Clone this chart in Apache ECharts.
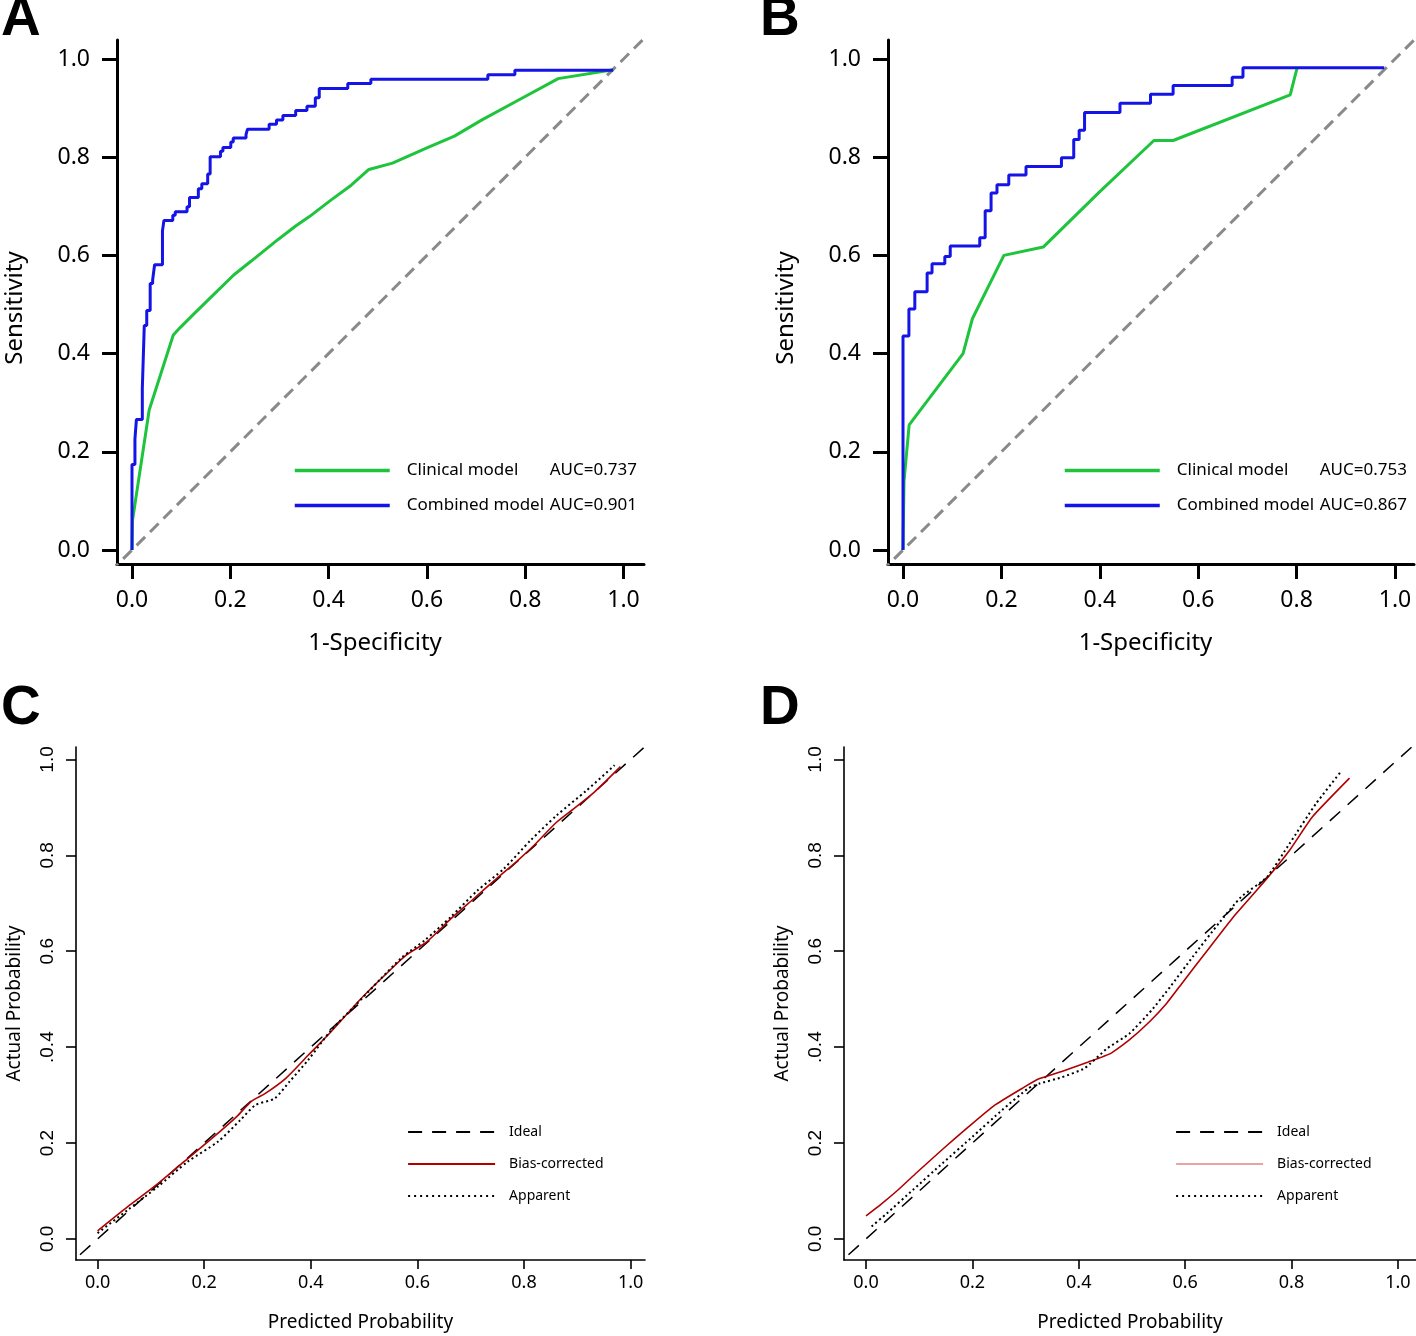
<!DOCTYPE html>
<html><head><meta charset="utf-8">
<script src="https://cdn.jsdelivr.net/npm/echarts@6/dist/echarts.min.js"></script>
<style>html,body{margin:0;padding:0;background:#fff}#c{width:1416px;height:1336px}</style>
</head><body><div id="c"></div>
<script>
// ---------- data ----------
const tickValues = [0, 0.2, 0.4, 0.6, 0.8, 1.0];
const calYTickLabels = ['0.0', '0.2', '.0.4', '0.6', '0.8', '1.0'];
const diagX = [-0.1, 1.1];

// Panel A (ROC)
const fprA_clin = [0, 0.001, 0.035, 0.084, 0.098, 0.126, 0.165, 0.207, 0.242, 0.298, 0.333, 0.361, 0.404, 0.446, 0.482, 0.530, 0.600, 0.656, 0.712, 0.782, 0.867, 0.979];
const tprA_clin = [0, 0.06, 0.285, 0.438, 0.453, 0.481, 0.519, 0.560, 0.588, 0.633, 0.660, 0.679, 0.712, 0.743, 0.775, 0.788, 0.819, 0.843, 0.876, 0.914, 0.960, 0.978];
const fprA_comb = [0, 0, 0.006, 0.009, 0.021, 0.025, 0.030, 0.037, 0.042, 0.046, 0.062, 0.065, 0.083, 0.088, 0.112, 0.117, 0.135, 0.142, 0.154, 0.159, 0.180, 0.185, 0.201, 0.206, 0.232, 0.235, 0.279, 0.294, 0.307, 0.333, 0.356, 0.373, 0.381, 0.439, 0.486, 0.724, 0.779, 0.979];
const tprA_comb = [0, 0.174, 0.226, 0.266, 0.329, 0.457, 0.488, 0.543, 0.550, 0.581, 0.650, 0.671, 0.682, 0.689, 0.699, 0.718, 0.736, 0.746, 0.766, 0.801, 0.812, 0.820, 0.831, 0.839, 0.846, 0.857, 0.867, 0.876, 0.885, 0.895, 0.904, 0.921, 0.940, 0.950, 0.959, 0.968, 0.977, 0.977];
const aucA = ['AUC=0.737', 'AUC=0.901'];

// Panel B (ROC)
const fprB_clin = [0, 0.002, 0.0125, 0.122, 0.141, 0.205, 0.285, 0.399, 0.510, 0.549, 0.787, 0.801];
const tprB_clin = [0, 0.14, 0.255, 0.400, 0.471, 0.600, 0.617, 0.729, 0.834, 0.834, 0.927, 0.982];
const fprB_comb = [0, 0, 0.012, 0.024, 0.049, 0.059, 0.085, 0.096, 0.156, 0.167, 0.179, 0.191, 0.215, 0.250, 0.322, 0.347, 0.358, 0.369, 0.441, 0.503, 0.549, 0.669, 0.691, 0.978];
const tprB_comb = [0, 0.436, 0.491, 0.526, 0.564, 0.583, 0.598, 0.619, 0.636, 0.691, 0.727, 0.744, 0.764, 0.781, 0.799, 0.836, 0.855, 0.891, 0.910, 0.928, 0.946, 0.963, 0.982, 0.982];
const aucB = ['AUC=0.753', 'AUC=0.867'];

// Panel C (calibration)
const predC_bias = [0.0, 0.056, 0.106, 0.162, 0.215, 0.261, 0.289, 0.314, 0.353, 0.395, 0.438, 0.494, 0.536, 0.579, 0.617, 0.663, 0.706, 0.748, 0.787, 0.819, 0.861, 0.893, 0.932, 0.981];
const actC_bias  = [0.017, 0.067, 0.109, 0.161, 0.210, 0.255, 0.2875, 0.303, 0.335, 0.383, 0.432, 0.501, 0.547, 0.592, 0.619, 0.668, 0.710, 0.751, 0.788, 0.821, 0.869, 0.897, 0.932, 0.985];
const predC_app = [0.0, 0.056, 0.113, 0.169, 0.226, 0.268, 0.296, 0.332, 0.360, 0.395, 0.438, 0.487, 0.529, 0.572, 0.614, 0.663, 0.713, 0.762, 0.812, 0.861, 0.917, 0.970];
const actC_app  = [0.012, 0.060, 0.109, 0.161, 0.203, 0.248, 0.279, 0.293, 0.328, 0.373, 0.435, 0.491, 0.540, 0.588, 0.623, 0.672, 0.727, 0.772, 0.831, 0.883, 0.935, 0.988];

// Panel D (calibration)
const predD_bias = [0.0, 0.028, 0.060, 0.095, 0.144, 0.193, 0.242, 0.298, 0.323, 0.368, 0.418, 0.460, 0.495, 0.533, 0.565, 0.596, 0.642, 0.691, 0.751, 0.796, 0.839, 0.909];
const actD_bias  = [0.048, 0.072, 0.102, 0.138, 0.187, 0.234, 0.279, 0.317, 0.333, 0.349, 0.369, 0.387, 0.415, 0.453, 0.491, 0.536, 0.602, 0.672, 0.748, 0.810, 0.880, 0.961];
const predD_app = [0.0105, 0.039, 0.088, 0.144, 0.200, 0.256, 0.305, 0.326, 0.368, 0.411, 0.453, 0.495, 0.537, 0.572, 0.614, 0.663, 0.705, 0.754, 0.796, 0.846, 0.891];
const actD_app  = [0.026, 0.053, 0.102, 0.158, 0.213, 0.269, 0.314, 0.324, 0.337, 0.356, 0.397, 0.428, 0.477, 0.526, 0.588, 0.658, 0.713, 0.755, 0.824, 0.908, 0.972];

// ---------- helpers ----------
const zip = (xs, ys) => xs.map((x, i) => [x, ys[i]]);
const GREEN = '#1ec43c', BLUE = '#1414e6', GREY = '#8a8a8a', RED = '#b00000', PINK = '#e8a4a4';
const FONT = 'Noto Sans';

function rocXAxis(gi, min, max) {
  return {
    gridIndex: gi, type: 'value', min, max,
    axisLine: { onZero: false, lineStyle: { color: '#000', width: 3 } },
    axisTick: { customValues: tickValues, length: 15, lineStyle: { color: '#000', width: 3 } },
    axisLabel: { customValues: tickValues, formatter: v => v.toFixed(1), margin: 25, fontSize: 23, color: '#000', fontFamily: FONT },
    splitLine: { show: false },
    name: '1-Specificity', nameLocation: 'middle', nameGap: 67,
    nameTextStyle: { fontSize: 24, color: '#000', fontFamily: FONT, padding: [0, 11, 0, 0] }
  };
}
function rocYAxis(gi) {
  return {
    gridIndex: gi, type: 'value', min: -0.0285, max: 1.0387,
    axisLine: { onZero: false, lineStyle: { color: '#000', width: 3 } },
    axisTick: { customValues: tickValues, length: 15, lineStyle: { color: '#000', width: 3 } },
    axisLabel: { customValues: tickValues, formatter: v => v.toFixed(1), margin: 27, fontSize: 23, color: '#000', fontFamily: FONT },
    splitLine: { show: false },
    name: 'Sensitivity', nameLocation: 'middle', nameGap: 90,
    nameTextStyle: { fontSize: 24, color: '#000', fontFamily: FONT, padding: [0, 12, 0, 0] }
  };
}
function calXAxis(gi, min, max) {
  return {
    gridIndex: gi, type: 'value', min, max,
    axisLine: { onZero: false, lineStyle: { color: '#000', width: 1.6 } },
    axisTick: { customValues: tickValues, length: 9, lineStyle: { color: '#000', width: 1.6 } },
    axisLabel: { customValues: tickValues, formatter: v => v.toFixed(1), margin: 14, fontSize: 18, color: '#000', fontFamily: FONT },
    splitLine: { show: false },
    name: 'Predicted Probability', nameLocation: 'middle', nameGap: 53,
    nameTextStyle: { fontSize: 19, color: '#000', fontFamily: FONT }
  };
}
function calYAxis(gi) {
  return {
    gridIndex: gi, type: 'value', min: -0.044, max: 1.026,
    axisLine: { onZero: false, lineStyle: { color: '#000', width: 1.6 } },
    axisTick: { customValues: tickValues, length: 10, lineStyle: { color: '#000', width: 1.6 } },
    axisLabel: { customValues: tickValues, rotate: 90, formatter: v => calYTickLabels[Math.round(v * 5)], margin: 19, fontSize: 19, color: '#000', fontFamily: 'Liberation Sans' },
    splitLine: { show: false },
    name: 'Actual Probability', nameLocation: 'middle', nameGap: 52,
    nameTextStyle: { fontSize: 19, color: '#000', fontFamily: FONT }
  };
}
function lineS(name, gi, data, color, width, type, extra) {
  return Object.assign({
    name, type: 'line', xAxisIndex: gi, yAxisIndex: gi, data,
    symbol: 'none', clip: true, silent: true,
    lineStyle: { color, width, type }, itemStyle: { color }
  }, extra || {});
}

function rocLegend(left, top, auc) {
  return {
    orient: 'vertical', left, top, itemWidth: 95, itemHeight: 20, itemGap: 18,
    selectedMode: false,
    itemStyle: { opacity: 0 },
    lineStyle: { width: 3.5 },
    data: ['Clinical model', 'Combined model'],
    formatter: n => '{a|' + n + ' }{b|' + (n === 'Clinical model' ? auc[0] : auc[1]) + '}',
    textStyle: {
      rich: {
        a: { width: 143, padding: [0, 0, 0, 12], fontSize: 17, lineHeight: 20, color: '#000', fontFamily: FONT },
        b: { fontSize: 17, lineHeight: 20, color: '#000', fontFamily: FONT }
      }
    }
  };
}
function calLegend(left, top, biasColor) {
  return {
    orient: 'vertical', left, top, itemWidth: 87, itemHeight: 20, itemGap: 16,
    selectedMode: false,
    itemStyle: { opacity: 0 },
    data: [
      'Ideal',
      { name: 'Bias-corrected', lineStyle: { color: biasColor || RED, width: 2.2 } },
      { name: 'Apparent', lineStyle: { width: 2, type: [2, 4] } }
    ],
    formatter: n => '{a|' + n + '}',
    textStyle: { rich: { a: { padding: [0, 0, 0, 9], fontSize: 14, lineHeight: 20, color: '#000', fontFamily: FONT } } }
  };
}

const diag = diagX.map(v => [v, v]);

const option = {
  animation: false,
  backgroundColor: '#fff',
  grid: [
    { left: 117, top: 40, width: 527, height: 524 },
    { left: 888, top: 40, width: 526, height: 524 },
    { left: 76, top: 747, width: 569, height: 513 },
    { left: 844, top: 747, width: 572, height: 513 }
  ],
  xAxis: [
    rocXAxis(0, -0.0305, 1.0417),
    rocXAxis(1, -0.0305, 1.0386),
    calXAxis(2, -0.0405, 1.027),
    calXAxis(3, -0.0414, 1.034)
  ],
  yAxis: [rocYAxis(0), rocYAxis(1), calYAxis(2), calYAxis(3)],
  legend: [
    rocLegend(288, 457, aucA),
    rocLegend(1058, 457, aucB),
    calLegend(402, 1119, null),
    calLegend(1170, 1119, PINK)
  ],
  series: [
    lineS('diagA', 0, diag, GREY, 3, [12, 7]),
    lineS('Clinical model', 0, zip(fprA_clin, tprA_clin), GREEN, 3, 'solid'),
    lineS('Combined model', 0, zip(fprA_comb, tprA_comb), BLUE, 3, 'solid', { step: 'end' }),
    lineS('diagB', 1, diag, GREY, 3, [12, 7]),
    lineS('Clinical model', 1, zip(fprB_clin, tprB_clin), GREEN, 3, 'solid'),
    lineS('Combined model', 1, zip(fprB_comb, tprB_comb), BLUE, 3, 'solid', { step: 'end' }),
    lineS('Ideal', 2, diag, '#000', 1.5, [14, 10]),
    lineS('Bias-corrected', 2, zip(predC_bias, actC_bias), RED, 1.6, 'solid', { smooth: 0.25 }),
    lineS('Apparent', 2, zip(predC_app, actC_app), '#000', 2, [2, 3], { smooth: 0.25 }),
    lineS('Ideal', 3, diag, '#000', 1.5, [14, 10]),
    lineS('Bias-corrected', 3, zip(predD_bias, actD_bias), RED, 1.6, 'solid', { smooth: 0.15 }),
    lineS('Apparent', 3, zip(predD_app, actD_app), '#000', 2, [2, 3], { smooth: 0.15 })
  ],
  graphic: [
    { type: 'text', left: 1, top: -8, style: { text: 'A', font: 'bold 55px "Liberation Sans"', fill: '#000' } },
    { type: 'text', left: 760, top: -8, style: { text: 'B', font: 'bold 55px "Liberation Sans"', fill: '#000' } },
    { type: 'text', left: 1, top: 681, style: { text: 'C', font: 'bold 55px "Liberation Sans"', fill: '#000' } },
    { type: 'text', left: 760, top: 681, style: { text: 'D', font: 'bold 55px "Liberation Sans"', fill: '#000' } }
  ]
};

const chart = echarts.init(document.getElementById('c'), null, { renderer: 'canvas' });
chart.setOption(option);
</script>
</body></html>
